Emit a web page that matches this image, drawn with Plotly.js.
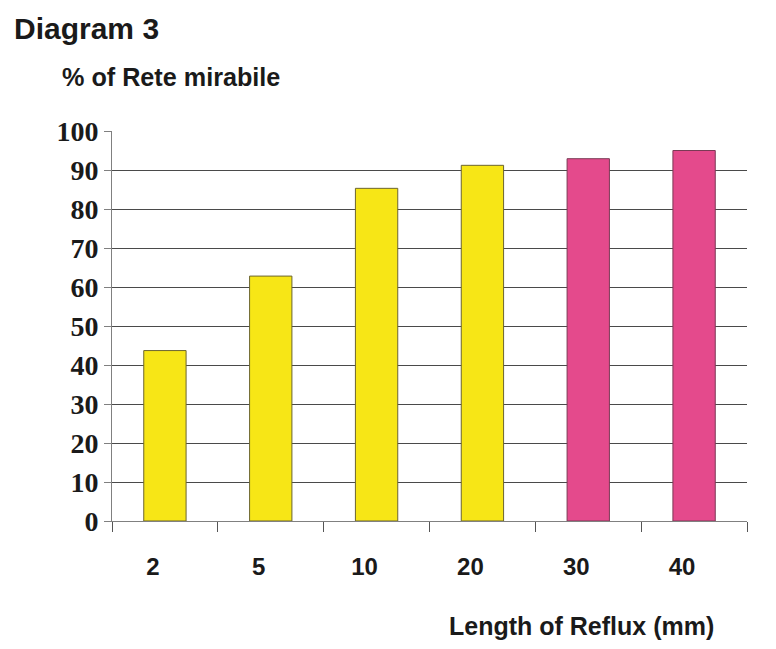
<!DOCTYPE html>
<html>
<head>
<meta charset="utf-8">
<script src="https://cdn.plot.ly/plotly-3.0.1.min.js"></script>
<style>html,body{margin:0;padding:0;background:#fff;}#chart{width:776px;height:649px;}</style>
</head>
<body>
<div id="chart"></div>
<script>
// Data
const categories = ['2', '5', '10', '20', '30', '40'];
const percentRete = [43.7, 62.8, 85.3, 91.2, 92.9, 95.0];
const yTickValues = [0, 10, 20, 30, 40, 50, 60, 70, 80, 90, 100];

// Styles
const YELLOW = '#F7E616';
const PINK = '#E44A8C';
const barColors = [YELLOW, YELLOW, YELLOW, YELLOW, PINK, PINK];
const barLines = ['#6b6430', '#6b6430', '#6b6430', '#6b6430', '#7a3a55', '#7a3a55'];

const trace = {
  type: 'bar',
  x: categories,
  y: percentRete,
  width: 0.4,
  marker: { color: barColors, line: { color: barLines, width: 1 } },
  hoverinfo: 'x+y'
};

const layout = {
  width: 776,
  height: 649,
  paper_bgcolor: '#ffffff',
  plot_bgcolor: '#ffffff',
  margin: { l: 111.5, r: 28.5, t: 131, b: 127.5, pad: 0 },
  showlegend: false,
  title: {
    text: 'Diagram 3',
    font: { family: 'Liberation Sans, Arial, sans-serif', size: 30, weight: 'bold', color: '#1a1a1a' },
    x: 14 / 776, xref: 'container', xanchor: 'left',
    y: 1 - 28 / 649, yref: 'container', yanchor: 'middle'
  },
  xaxis: {
    type: 'category',
    range: [-0.5, 5.5],
    showgrid: false,
    zeroline: false,
    showline: true,
    linecolor: '#808080',
    linewidth: 1,
    ticks: 'outside',
    tickson: 'boundaries',
    ticklen: 10,
    tickcolor: '#555555',
    tickwidth: 1,
    ticklabelshift: -12,
    ticklabelstandoff: 24,
    tickfont: { family: 'Liberation Sans, Arial, sans-serif', size: 24, weight: 'bold', color: '#1a1a1a' }
  },
  yaxis: {
    range: [0, 100],
    tickvals: yTickValues,
    ticktext: yTickValues.map(String),
    showgrid: true,
    gridcolor: '#4a4a4a',
    gridwidth: 1,
    zeroline: false,
    showline: true,
    linecolor: '#808080',
    linewidth: 1,
    ticks: 'outside',
    ticklen: 7,
    tickcolor: '#808080',
    tickwidth: 1,
    ticklabelstandoff: 0,
    tickfont: { family: 'Liberation Serif, Times New Roman, serif', size: 28, weight: 'bold', color: '#1a1a1a' }
  },
  annotations: [
    {
      text: '% of Rete mirabile',
      xref: 'paper', yref: 'paper',
      x: (59 - 111.5) / 636, xanchor: 'left',
      y: (521.5 - 77) / 390.5, yanchor: 'middle',
      showarrow: false,
      font: { family: 'Liberation Sans, Arial, sans-serif', size: 25.2, weight: 'bold', color: '#1a1a1a' }
    },
    {
      text: 'Length of Reflux (mm)',
      xref: 'paper', yref: 'paper',
      x: (716 - 111.5) / 636, xanchor: 'right',
      y: (521.5 - 627) / 390.5, yanchor: 'middle',
      showarrow: false,
      font: { family: 'Liberation Sans, Arial, sans-serif', size: 25, weight: 'bold', color: '#1a1a1a' }
    }
  ]
};

Plotly.newPlot('chart', [trace], layout, { displayModeBar: false, staticPlot: true });
</script>
</body>
</html>
